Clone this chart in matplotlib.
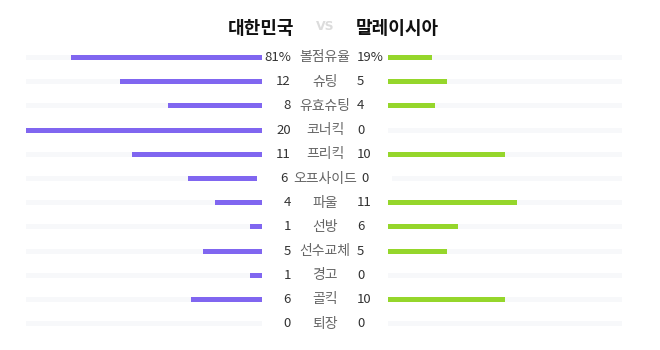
import matplotlib
matplotlib.use("Agg")
import matplotlib.pyplot as plt

plt.rcParams["font.family"] = ["Noto Sans CJK KR", "DejaVu Sans"]

home_team = "대한민국"
away_team = "말레이시아"
stat_labels = ["볼점유율", "슈팅", "유효슈팅", "코너킥", "프리킥", "오프사이드",
               "파울", "선방", "선수교체", "경고", "골킥", "퇴장"]
home_vals = [81, 12, 8, 20, 11, 6, 4, 1, 5, 1, 6, 0]
away_vals = [19, 5, 4, 0, 10, 0, 11, 6, 5, 0, 10, 0]
is_percent = [True] + [False] * 11
count_max = 20

PURPLE = "#8066f0"
GREEN = "#95d62b"
TRACK = "#f7f8fa"

fig = plt.figure(figsize=(6.6, 3.5), dpi=100)
ax = fig.add_axes([0, 0, 1, 1])
ax.set_xlim(0, 660)
ax.set_ylim(350, 0)
ax.axis("off")

ax.text(261, 28, home_team, ha="center", va="center", fontsize=13,
        fontweight="bold", color="#111111")
ax.text(325, 27, "VS", ha="center", va="center", fontsize=9,
        fontweight="bold", color="#dcdcdc", family="DejaVu Sans")
ax.text(397, 28, away_team, ha="center", va="center", fontsize=13,
        fontweight="bold", color="#111111")

y0, dy = 57.5, 24.2
left_start, left_end = 26, 262
right_start, right_end = 388, 622
for i, lab in enumerate(stat_labels):
    y = y0 + i * dy
    wide = len(lab) >= 5
    le, rs = (left_end - 5, right_start + 4) if wide else (left_end, right_start)
    lw = le - left_start
    rw = right_end - rs
    scale = 100 if is_percent[i] else count_max
    ax.barh(y, lw, left=left_start, height=5, color=TRACK)
    ax.barh(y, rw, left=rs, height=5, color=TRACK)
    hw = lw * home_vals[i] / scale
    aw = rw * away_vals[i] / scale
    if hw > 0:
        ax.barh(y, hw, left=le - hw, height=5, color=PURPLE)
    if aw > 0:
        ax.barh(y, aw, left=rs, height=5, color=GREEN)
    suf = "%" if is_percent[i] else ""
    hx, ax_ = (288, 361) if wide else (291, 357)
    ax.text(325, y, lab, ha="center", va="center", fontsize=10, color="#666666")
    ax.text(hx, y, f"{home_vals[i]}{suf}", ha="right", va="center",
            fontsize=9.5, color="#333333")
    ax.text(ax_, y, f"{away_vals[i]}{suf}", ha="left", va="center",
            fontsize=9.5, color="#333333")

fig.savefig("out.png", dpi=100)
